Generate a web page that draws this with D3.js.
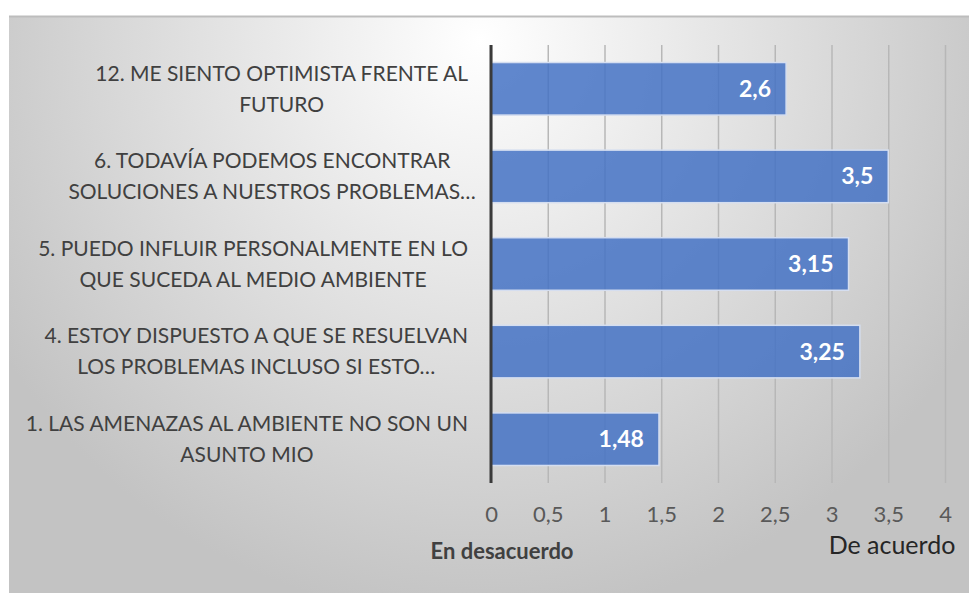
<!DOCTYPE html>
<html>
<head>
<meta charset="utf-8">
<script src="https://cdn.jsdelivr.net/npm/d3@7"></script>
<style>
  html, body { margin: 0; padding: 0; background: #fff; }
  svg { display: block; }
  text { font-family: Lato, "Liberation Sans", sans-serif; }
</style>
</head>
<body>
<svg id="chart"></svg>
<script>
(() => {

  // categories, top to bottom, already wrapped the way the original shows them
  const categoryLines = [
    ['12. ME SIENTO OPTIMISTA FRENTE AL', 'FUTURO'],
    ['6. TODAVÍA PODEMOS ENCONTRAR', 'SOLUCIONES A NUESTROS PROBLEMAS…'],
    ['5. PUEDO INFLUIR PERSONALMENTE EN LO', 'QUE SUCEDA AL MEDIO AMBIENTE'],
    ['4. ESTOY DISPUESTO A QUE SE RESUELVAN', 'LOS PROBLEMAS INCLUSO SI ESTO…'],
    ['1. LAS AMENAZAS AL AMBIENTE NO SON UN', 'ASUNTO MIO']
  ];
  const values = [2.6, 3.5, 3.15, 3.25, 1.48];
  const xTicks = [0, 0.5, 1, 1.5, 2, 2.5, 3, 3.5, 4];
  const leftTitle = 'En desacuerdo';
  const rightTitle = 'De acuerdo';

  const svgWidth = 969;
  const svgHeight = 593;
  const plot = { left: 491, right: 945, top: 45, bottom: 483 };

  const es = d3.formatLocale({ decimal: ',', thousands: '.', grouping: [3], currency: ['', '€'] });
  const fmt = es.format('~g');

  const data = categoryLines.map((lines, i) => ({ key: i, lines, value: values[i] }));

  const svg = d3.select('#chart')
    .attr('width', svgWidth)
    .attr('height', svgHeight);

  // panel background
  const defs = svg.append('defs');
  const grad = defs.append('radialGradient')
    .attr('id', 'bg')
    .attr('gradientUnits', 'userSpaceOnUse')
    .attr('cx', 480).attr('cy', 60).attr('r', 560)
    .attr('fx', 480).attr('fy', 40);
  grad.append('stop').attr('offset', '0%').attr('stop-color', '#ffffff');
  grad.append('stop').attr('offset', '100%').attr('stop-color', '#c3c3c3');

  svg.append('rect')
    .attr('x', 9).attr('y', 16)
    .attr('width', svgWidth - 9).attr('height', svgHeight - 16)
    .attr('fill', 'url(#bg)');
  svg.append('line')
    .attr('x1', 9).attr('x2', svgWidth)
    .attr('y1', 16.5).attr('y2', 16.5)
    .attr('stroke', '#bdbdbd').attr('stroke-width', 2);

  const xScale = d3.scaleLinear()
    .domain([0, 4])
    .range([plot.left, plot.right]);

  const yScale = d3.scaleBand()
    .domain(data.map(d => d.key))
    .range([plot.top, plot.bottom])
    .paddingInner(0.4)
    .paddingOuter(0.2);

  // gridlines + tick labels
  const xAxis = d3.axisBottom(xScale)
    .tickValues(xTicks)
    .tickSize(-(plot.bottom - plot.top))
    .tickPadding(23)
    .tickFormat(fmt);

  const gx = svg.append('g')
    .attr('transform', `translate(0, ${plot.bottom})`)
    .call(xAxis);
  gx.select('.domain').remove();
  gx.selectAll('.tick line')
    .attr('stroke', '#b7b7b7')
    .attr('stroke-width', 1.5);
  gx.selectAll('.tick text')
    .attr('fill', '#595959')
    .attr('font-size', 22)
    .attr('font-family', 'Lato, sans-serif');

  // bars
  svg.append('g')
    .selectAll('rect')
    .data(data)
    .enter()
    .append('rect')
    .attr('x', xScale(0))
    .attr('y', d => yScale(d.key))
    .attr('width', d => xScale(d.value) - xScale(0))
    .attr('height', yScale.bandwidth())
    .attr('fill', '#4472c4')
    .attr('fill-opacity', 0.85)
    .attr('stroke', '#d5def0')
    .attr('stroke-width', 1.5);

  // value labels inside end
  svg.append('g')
    .selectAll('text')
    .data(data)
    .enter()
    .append('text')
    .attr('x', d => xScale(d.value) - 15)
    .attr('y', d => yScale(d.key) + yScale.bandwidth() / 2)
    .attr('dy', '0.35em')
    .attr('text-anchor', 'end')
    .attr('fill', '#ffffff')
    .attr('font-weight', 'bold')
    .attr('font-size', 23)
    .text(d => fmt(d.value));

  // zero axis line
  svg.append('line')
    .attr('x1', xScale(0)).attr('x2', xScale(0))
    .attr('y1', plot.top).attr('y2', plot.bottom)
    .attr('stroke', '#3a3a3a')
    .attr('stroke-width', 3);

  // category labels, lines centred inside a block that ends near the axis
  // (a trailing ellipsis is allowed to stick out, as in Excel)
  const labelRight = xScale(0) - 23;
  const lineGap = 31;
  const cat = svg.append('g')
    .selectAll('g')
    .data(data)
    .enter()
    .append('g');

  cat.each(function(d) {
    const g = d3.select(this);
    const cy = yScale(d.key) + yScale.bandwidth() / 2;
    const texts = d.lines.map((line, i) => g.append('text')
      .attr('y', cy + (i - (d.lines.length - 1) / 2) * lineGap)
      .attr('dy', '0.35em')
      .attr('text-anchor', 'middle')
      .attr('fill', '#404040')
      .attr('font-size', 21)
      .text(line));
    const widths = texts.map(t => {
      const node = t.node();
      const full = node.getComputedTextLength();
      const s = t.text();
      return s.endsWith('…') ? full - node.getSubStringLength(s.length - 1, 1) : full;
    });
    const maxW = d3.max(widths);
    texts.forEach(t => t.attr('x', labelRight - maxW / 2));
  });

  // axis titles
  svg.append('text')
    .attr('x', 502).attr('y', 551)
    .attr('dy', '0.35em')
    .attr('text-anchor', 'middle')
    .attr('fill', '#404040')
    .attr('font-weight', 'bold')
    .attr('font-size', 22)
    .text(leftTitle);

  svg.append('text')
    .attr('x', 892).attr('y', 545)
    .attr('dy', '0.35em')
    .attr('text-anchor', 'middle')
    .attr('fill', '#262626')
    .attr('font-size', 25)
    .text(rightTitle);

})();
</script>
</body>
</html>
